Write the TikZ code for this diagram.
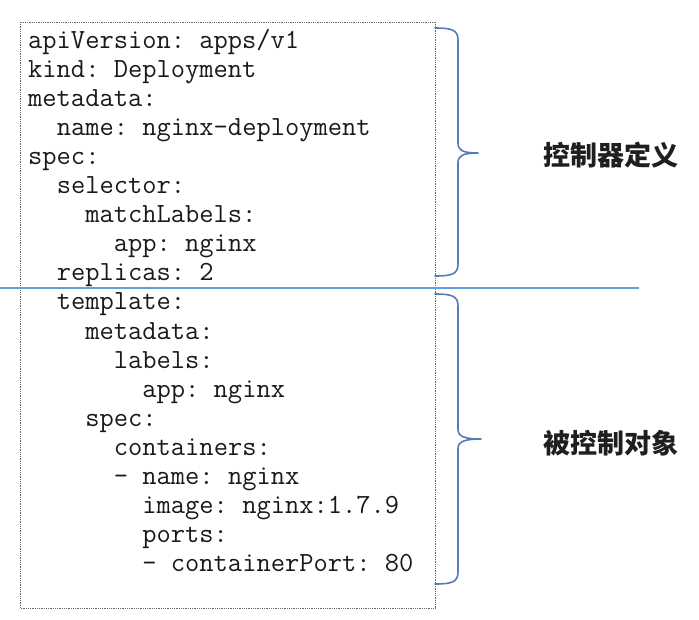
\documentclass[tikz,border=0pt]{standalone}
\usepackage{fontspec}
\newfontfamily\cjkfont{Noto Sans CJK SC}
\definecolor{sepblue}{RGB}{95,160,222}
\definecolor{braceblue}{RGB}{88,122,186}
\tikzset{
  code/.style={font=\ttfamily\frenchspacing\fontsize{27.7pt}{29pt}\selectfont, anchor=base west, inner sep=0pt, text=black!90},
  lbl/.style={font=\cjkfont\bfseries\fontsize{27pt}{30pt}\selectfont, inner sep=0pt, text=black!88},
  brace/.style={draw=braceblue, line width=1.6pt, line cap=round, line join=round},
  frame/.style={draw=black!60, densely dotted, line width=0.8pt}
}
\begin{document}
\begin{tikzpicture}[x=1pt,y=-1pt]
            \useasboundingbox (0,0) rectangle (699,619);
            \draw[frame] (20,22) rectangle (435,608);

            \node[code] (apiver) at (28,48) {apiVersion: apps/v1};
            \node[code] (kind) at (28,77.1) {kind: Deployment};
            \node[code] (meta) at (28,106.2) {metadata:};
            \node[code] (name) at (56.6,135.3) {name: nginx-deployment};
            \node[code] (spec) at (28,164.4) {spec:};
            \node[code] (selector) at (56.6,193.5) {selector:};
            \node[code] (match) at (85.1,222.6) {matchLabels:};
            \node[code] (matchapp) at (113.7,251.7) {app: nginx};
            \node[code] (replicas) at (56.6,280.8) {replicas: 2};

            \node[code] (template) at (56.6,309.9) {template:};
            \node[code] (tmeta) at (85.1,339) {metadata:};
            \node[code] (labels) at (113.7,368.1) {labels:};
            \node[code] (labelapp) at (142.2,397.2) {app: nginx};
            \node[code] (tspec) at (85.1,426.3) {spec:};
            \node[code] (containers) at (113.7,455.4) {containers:};
            \node[code] (cname) at (113.7,484.5) {- name: nginx};
            \node[code] (image) at (142.2,513.6) {image: nginx:1.7.9};
            \node[code] (ports) at (142.2,542.7) {ports:};
            \node[code] (cport) at (142.2,571.8) {- containerPort: 80};

            \draw[sepblue, line width=1.6pt] (0,288) -- (639,288);

            \draw[brace] (435,28) .. controls (452,28) and (458,30) .. (458,40) -- (458,143)
                .. controls (458,150) and (462,153) .. (478,153)
                .. controls (462,153) and (458,156) .. (458,163) -- (458,264)
                .. controls (458,274) and (452,276) .. (435,276);
            \draw[brace] (435,294) .. controls (452,294) and (458,296) .. (458,306) -- (458,429)
                .. controls (458,436) and (463,439) .. (481,439)
                .. controls (463,439) and (458,442) .. (458,449) -- (458,572)
                .. controls (458,582) and (452,584) .. (435,584);

            \node[lbl] (ctrldef) at (611,155) {控制器定义};
            \node[lbl] (ctrlobj) at (611,443) {被控制对象};
        \end{tikzpicture}
\end{document}
